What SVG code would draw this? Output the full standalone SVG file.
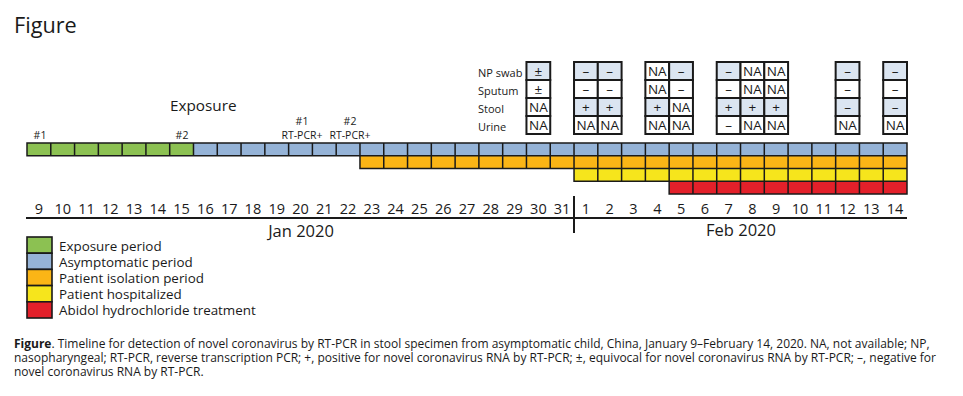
<svg xmlns="http://www.w3.org/2000/svg" width="963" height="396" viewBox="0 0 963 396">
<style>
text{font-family:"Open Sans","DejaVu Sans",sans-serif;fill:#1a1a1a}
.title{font-size:21.7px}
.lbl{font-size:10.5px}
.exp{font-size:15.3px}
.rl{font-size:11px}
.ct{font-size:13.5px;text-anchor:middle}
.day{font-size:14.5px;text-anchor:middle}
.mon{font-size:16.5px;text-anchor:middle}
.leg{font-size:13.4px}
.cap{font-size:12px}
.cell{stroke:#1a1a1a;stroke-width:2}
.b{fill:#dbe5f1}
.w{fill:#ffffff}
.bar{stroke:#1a1a1a;stroke-width:1.6}
.div{stroke:#1a1a1a;stroke-width:1.5;fill:none}
.green{fill:#8cc152}
.blue{fill:#95b3d7}
.orange{fill:#fbb516}
.yellow{fill:#f6e51c}
.red{fill:#e3202a}
.axis{stroke:#1a1a1a;stroke-width:2;fill:none}
</style>
<rect width="963" height="396" fill="#ffffff"/>
<text class="title" x="14" y="33">Figure</text>

<g id="table-labels">
<text class="rl" x="478" y="77">NP swab</text>
<text class="rl" x="478" y="94.5">Sputum</text>
<text class="rl" x="478" y="112.5">Stool</text>
<text class="rl" x="478" y="130.5">Urine</text>
</g>

<g id="col-jan30">
<rect class="cell b" x="526.46" y="62" width="23.78" height="18"/>
<rect class="cell w" x="526.46" y="80" width="23.78" height="18"/>
<rect class="cell w" x="526.46" y="98" width="23.78" height="18"/>
<rect class="cell w" x="526.46" y="116" width="23.78" height="18"/>
<text class="ct" x="538.35" y="76">±</text><text class="ct" x="538.35" y="94">±</text><text class="ct" x="538.35" y="112">NA</text><text class="ct" x="538.35" y="130">NA</text>
</g>
<g id="col-feb1">
<rect class="cell b" x="574.03" y="62" width="23.78" height="18"/>
<rect class="cell w" x="574.03" y="80" width="23.78" height="18"/>
<rect class="cell b" x="574.03" y="98" width="23.78" height="18"/>
<rect class="cell w" x="574.03" y="116" width="23.78" height="18"/>
<text class="ct" x="585.92" y="76">–</text><text class="ct" x="585.92" y="94">–</text><text class="ct" x="585.92" y="112">+</text><text class="ct" x="585.92" y="130">NA</text>
</g>
<g id="col-feb2">
<rect class="cell b" x="597.81" y="62" width="23.78" height="18"/>
<rect class="cell w" x="597.81" y="80" width="23.78" height="18"/>
<rect class="cell b" x="597.81" y="98" width="23.78" height="18"/>
<rect class="cell w" x="597.81" y="116" width="23.78" height="18"/>
<text class="ct" x="609.70" y="76">–</text><text class="ct" x="609.70" y="94">–</text><text class="ct" x="609.70" y="112">+</text><text class="ct" x="609.70" y="130">NA</text>
</g>
<g id="col-feb4">
<rect class="cell w" x="645.38" y="62" width="23.78" height="18"/>
<rect class="cell w" x="645.38" y="80" width="23.78" height="18"/>
<rect class="cell b" x="645.38" y="98" width="23.78" height="18"/>
<rect class="cell w" x="645.38" y="116" width="23.78" height="18"/>
<text class="ct" x="657.27" y="76">NA</text><text class="ct" x="657.27" y="94">NA</text><text class="ct" x="657.27" y="112">+</text><text class="ct" x="657.27" y="130">NA</text>
</g>
<g id="col-feb5">
<rect class="cell b" x="669.16" y="62" width="23.78" height="18"/>
<rect class="cell w" x="669.16" y="80" width="23.78" height="18"/>
<rect class="cell w" x="669.16" y="98" width="23.78" height="18"/>
<rect class="cell w" x="669.16" y="116" width="23.78" height="18"/>
<text class="ct" x="681.05" y="76">–</text><text class="ct" x="681.05" y="94">–</text><text class="ct" x="681.05" y="112">NA</text><text class="ct" x="681.05" y="130">NA</text>
</g>
<g id="col-feb7">
<rect class="cell b" x="716.73" y="62" width="23.78" height="18"/>
<rect class="cell w" x="716.73" y="80" width="23.78" height="18"/>
<rect class="cell b" x="716.73" y="98" width="23.78" height="18"/>
<rect class="cell w" x="716.73" y="116" width="23.78" height="18"/>
<text class="ct" x="728.62" y="76">–</text><text class="ct" x="728.62" y="94">–</text><text class="ct" x="728.62" y="112">+</text><text class="ct" x="728.62" y="130">–</text>
</g>
<g id="col-feb8">
<rect class="cell w" x="740.51" y="62" width="23.78" height="18"/>
<rect class="cell w" x="740.51" y="80" width="23.78" height="18"/>
<rect class="cell b" x="740.51" y="98" width="23.78" height="18"/>
<rect class="cell w" x="740.51" y="116" width="23.78" height="18"/>
<text class="ct" x="752.40" y="76">NA</text><text class="ct" x="752.40" y="94">NA</text><text class="ct" x="752.40" y="112">+</text><text class="ct" x="752.40" y="130">NA</text>
</g>
<g id="col-feb9">
<rect class="cell w" x="764.30" y="62" width="23.78" height="18"/>
<rect class="cell w" x="764.30" y="80" width="23.78" height="18"/>
<rect class="cell b" x="764.30" y="98" width="23.78" height="18"/>
<rect class="cell w" x="764.30" y="116" width="23.78" height="18"/>
<text class="ct" x="776.19" y="76">NA</text><text class="ct" x="776.19" y="94">NA</text><text class="ct" x="776.19" y="112">+</text><text class="ct" x="776.19" y="130">NA</text>
</g>
<g id="col-feb12">
<rect class="cell b" x="835.65" y="62" width="23.78" height="18"/>
<rect class="cell w" x="835.65" y="80" width="23.78" height="18"/>
<rect class="cell b" x="835.65" y="98" width="23.78" height="18"/>
<rect class="cell w" x="835.65" y="116" width="23.78" height="18"/>
<text class="ct" x="847.54" y="76">–</text><text class="ct" x="847.54" y="94">–</text><text class="ct" x="847.54" y="112">–</text><text class="ct" x="847.54" y="130">NA</text>
</g>
<g id="col-feb14">
<rect class="cell b" x="883.22" y="62" width="23.78" height="18"/>
<rect class="cell w" x="883.22" y="80" width="23.78" height="18"/>
<rect class="cell b" x="883.22" y="98" width="23.78" height="18"/>
<rect class="cell w" x="883.22" y="116" width="23.78" height="18"/>
<text class="ct" x="895.11" y="76">–</text><text class="ct" x="895.11" y="94">–</text><text class="ct" x="895.11" y="112">–</text><text class="ct" x="895.11" y="130">NA</text>
</g>

<g id="annotations">
<text class="exp" x="170" y="111">Exposure</text>
<text class="lbl" x="40" y="139" text-anchor="middle">#1</text>
<text class="lbl" x="182" y="139" text-anchor="middle">#2</text>
<text class="lbl" x="302" y="125" text-anchor="middle">#1</text>
<text class="lbl" x="302" y="139" text-anchor="middle">RT-PCR+</text>
<text class="lbl" x="350" y="125" text-anchor="middle">#2</text>
<text class="lbl" x="350" y="139" text-anchor="middle">RT-PCR+</text>
</g>

<g id="bars">
<rect class="green" x="27" y="143" width="166.49" height="12.75"/>
<rect class="blue" x="193.49" y="143" width="713.51" height="12.75"/>
<rect class="orange" x="359.97" y="155.75" width="547.03" height="12.75"/>
<rect class="yellow" x="574.03" y="168.5" width="332.97" height="12.75"/>
<rect class="red" x="669.16" y="181.25" width="237.84" height="12.75"/>
<path class="div" d="M50.78 143V155.75M74.57 143V155.75M98.35 143V155.75M122.14 143V155.75M145.92 143V155.75M169.70 143V155.75M193.49 143V155.75M217.27 143V155.75M241.05 143V155.75M264.84 143V155.75M288.62 143V155.75M312.41 143V155.75M336.19 143V155.75M359.97 143V155.75M383.76 143V168.5M407.54 143V168.5M431.32 143V168.5M455.11 143V168.5M478.89 143V168.5M502.68 143V168.5M526.46 143V168.5M550.24 143V168.5M574.03 143V168.5M597.81 143V181.25M621.59 143V181.25M645.38 143V181.25M669.16 143V181.25M692.95 143V194M716.73 143V194M740.51 143V194M764.30 143V194M788.08 143V194M811.86 143V194M835.65 143V194M859.43 143V194M883.22 143V194"/>
<path class="div" d="M27 143H907V194H669.16V181.25H574.03V168.5H359.97V155.75H27Z M359.97 155.75H907 M574.03 168.5H907 M669.16 181.25H907" stroke-width="1.8"/>
</g>

<g id="axis">
<path class="axis" d="M26 218H907"/>
<path class="axis" d="M574 196V233" stroke-width="1.5"/>
<text class="day" x="38.9" y="214">9</text>
<text class="day" x="62.7" y="214">10</text>
<text class="day" x="86.5" y="214">11</text>
<text class="day" x="110.2" y="214">12</text>
<text class="day" x="134.0" y="214">13</text>
<text class="day" x="157.8" y="214">14</text>
<text class="day" x="181.6" y="214">15</text>
<text class="day" x="205.4" y="214">16</text>
<text class="day" x="229.2" y="214">17</text>
<text class="day" x="252.9" y="214">18</text>
<text class="day" x="276.7" y="214">19</text>
<text class="day" x="300.5" y="214">20</text>
<text class="day" x="324.3" y="214">21</text>
<text class="day" x="348.1" y="214">22</text>
<text class="day" x="371.9" y="214">23</text>
<text class="day" x="395.6" y="214">24</text>
<text class="day" x="419.4" y="214">25</text>
<text class="day" x="443.2" y="214">26</text>
<text class="day" x="467.0" y="214">27</text>
<text class="day" x="490.8" y="214">28</text>
<text class="day" x="514.6" y="214">29</text>
<text class="day" x="538.4" y="214">30</text>
<text class="day" x="562.1" y="214">31</text>
<text class="day" x="585.9" y="214">1</text>
<text class="day" x="609.7" y="214">2</text>
<text class="day" x="633.5" y="214">3</text>
<text class="day" x="657.3" y="214">4</text>
<text class="day" x="681.1" y="214">5</text>
<text class="day" x="704.8" y="214">6</text>
<text class="day" x="728.6" y="214">7</text>
<text class="day" x="752.4" y="214">8</text>
<text class="day" x="776.2" y="214">9</text>
<text class="day" x="800.0" y="214">10</text>
<text class="day" x="823.8" y="214">11</text>
<text class="day" x="847.5" y="214">12</text>
<text class="day" x="871.3" y="214">13</text>
<text class="day" x="895.1" y="214">14</text>
<text class="mon" x="301" y="237">Jan 2020</text>
<text class="mon" x="741" y="236">Feb 2020</text>
</g>

<g id="legend">
<rect class="bar green" x="27" y="237" width="25" height="16.2"/>
<rect class="bar blue" x="27" y="253.2" width="25" height="16.2"/>
<rect class="bar orange" x="27" y="269.4" width="25" height="16.2"/>
<rect class="bar yellow" x="27" y="285.6" width="25" height="16.2"/>
<rect class="bar red" x="27" y="301.8" width="25" height="16.2"/>
<text class="leg" x="59" y="250.5">Exposure period</text>
<text class="leg" x="59" y="266.7">Asymptomatic period</text>
<text class="leg" x="59" y="282.9">Patient isolation period</text>
<text class="leg" x="59" y="299.1">Patient hospitalized</text>
<text class="leg" x="59" y="315.3">Abidol hydrochloride treatment</text>
</g>

<g id="caption">
<text class="cap" x="14" y="348"><tspan font-weight="bold">Figure</tspan>. Timeline for detection of novel coronavirus by RT-PCR in stool specimen from asymptomatic child, China, January 9–February 14, 2020. NA, not available; NP,</text>
<text class="cap" x="14" y="362">nasopharyngeal; RT-PCR, reverse transcription PCR; +, positive for novel coronavirus RNA by RT-PCR; ±, equivocal for novel coronavirus RNA by RT-PCR; –, negative for</text>
<text class="cap" x="14" y="376">novel coronavirus RNA by RT-PCR.</text>
</g>
</svg>
